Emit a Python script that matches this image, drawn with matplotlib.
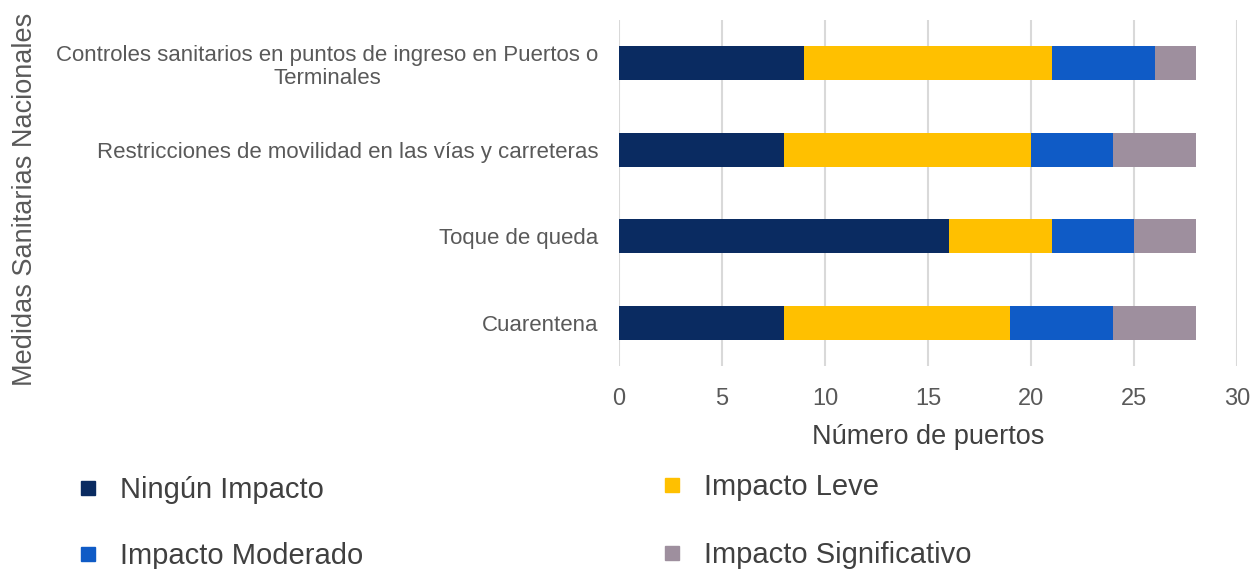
import matplotlib.pyplot as plt
from matplotlib.lines import Line2D

plt.rcParams['font.family'] = ['Liberation Sans', 'DejaVu Sans']

# Measures (top to bottom as shown) and counts per impact level
medidas = ['Controles sanitarios en puntos de ingreso en Puertos o\nTerminales',
           'Restricciones de movilidad en las vías y carreteras',
           'Toque de queda',
           'Cuarentena']
ningun = [9, 8, 16, 8]
leve = [12, 12, 5, 11]
moderado = [5, 4, 4, 5]
significativo = [2, 4, 3, 4]

series = [('Ningún Impacto', ningun, '#0A2B61'),
          ('Impacto Leve', leve, '#FFC000'),
          ('Impacto Moderado', moderado, '#0F5BC6'),
          ('Impacto Significativo', significativo, '#9E8F9E')]

txt = '#595959'

fig = plt.figure(figsize=(12.51, 5.69), dpi=100)
ax = fig.add_axes([619/1251, 1-366/569, (1237-619)/1251, 346/569])

pos = list(range(len(medidas)))[::-1]
left = [0]*len(medidas)
for name, vals, col in series:
    ax.barh(pos, vals, left=left, height=0.39, color=col, label=name, zorder=3)
    left = [a+b for a, b in zip(left, vals)]

ax.set_xlim(0, 30)
ax.set_ylim(-0.5, 3.5)
ax.set_xticks(range(0, 31, 5))
ax.set_yticks(pos)
ax.set_yticklabels(medidas, fontsize=16, color=txt, multialignment='center',
                   linespacing=1.15)
ax.tick_params(axis='both', length=0)
ax.tick_params(axis='y', pad=15)
ax.tick_params(axis='x', pad=16, labelsize=17, labelcolor=txt)
ax.grid(axis='x', color='#D9D9D9', linewidth=1.5, zorder=0)
for s in ax.spines.values():
    s.set_visible(False)
ax.set_xlabel('Número de puertos', fontsize=19.5, color='#404040', labelpad=10)

fig.text(25/1251, 1-199/569, 'Medidas Sanitarias Nacionales', rotation=90,
         ha='center', va='center', fontsize=19.5, color=txt)

def handle(col):
    return Line2D([], [], marker='s', markersize=10, color=col, linestyle='none')

leg_kw = dict(frameon=False, fontsize=21, labelcolor='#404040', handletextpad=0.6,
              handlelength=1.0, borderaxespad=0, borderpad=0)
fig.legend([handle(series[0][2]), handle(series[2][2])], [series[0][0], series[2][0]],
           loc='upper left', bbox_to_anchor=(73/1251, 1-476/569), labelspacing=1.3, **leg_kw)
fig.legend([handle(series[1][2]), handle(series[3][2])], [series[1][0], series[3][0]],
           loc='upper left', bbox_to_anchor=(657/1251, 1-473/569), labelspacing=1.38, **leg_kw)

fig.savefig('out.png', dpi=100)
